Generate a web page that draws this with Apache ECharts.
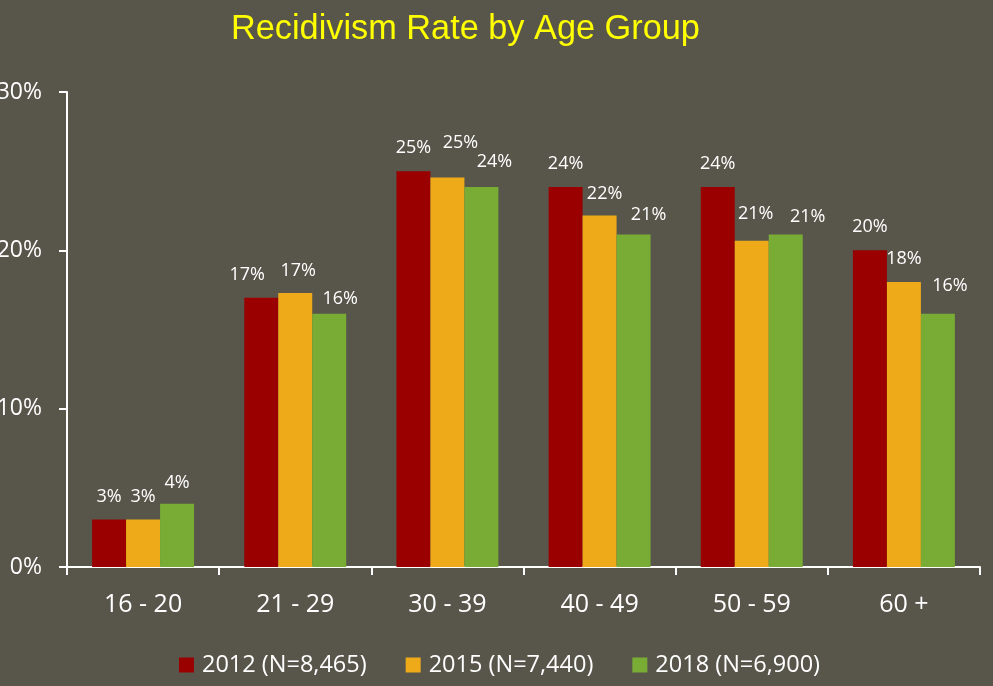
<!DOCTYPE html>
<html>
<head>
<meta charset="utf-8">
<script src="https://cdn.jsdelivr.net/npm/echarts@6/dist/echarts.min.js"></script>
<style>
html,body{margin:0;padding:0;background:#58564B;}
#c{width:993px;height:686px;}
</style>
</head>
<body>
<div id="c"></div>
<script>
var categories = ['16 - 20', '21 - 29', '30 - 39', '40 - 49', '50 - 59', '60 +'];
var seriesNames = ['2012 (N=8,465)', '2015 (N=7,440)', '2018 (N=6,900)'];
var values2012 = [3.0, 17.0, 25.0, 24.0, 24.0, 20.0];
var values2015 = [3.0, 17.3, 24.6, 22.2, 20.6, 18.0];
var values2018 = [4.0, 16.0, 24.0, 21.0, 21.0, 16.0];
var yTicks = [0, 10, 20, 30];

// manual label nudges (as in the original slide), [dx, dy] per category
var labelShift2012 = [[0,0],[-14,0],[0,0],[0,0],[0,0],[0,0]];
var labelShift2015 = [[0,0],[3,1],[13,-12],[5,1],[4,-4],[0,0]];
var labelShift2018 = [[0,2],[11,8],[13,-2],[15,3],[22,5],[12,-5]];

var colors = ['#9A0000', '#EFAA1A', '#78AC35'];
var allValues = [values2012, values2015, values2018];
var allShifts = [labelShift2012, labelShift2015, labelShift2018];

var FONT = '"Open Sans", "Noto Sans", sans-serif';

var series = allValues.map(function (vals, si) {
  return {
    name: seriesNames[si],
    type: 'bar',
    barGap: '0%',
    barCategoryGap: '33%',
    itemStyle: { color: colors[si] },
    label: {
      show: true,
      position: 'top',
      distance: 14,
      color: '#ffffff',
      fontFamily: FONT,
      fontSize: 18,
      formatter: function (p) { return Math.round(p.value) + '%'; }
    },
    data: vals.map(function (v, i) {
      return { value: v, label: { offset: allShifts[si][i] } };
    })
  };
});

var chart = echarts.init(document.getElementById('c'));
chart.setOption({
  backgroundColor: '#58564B',
  animation: false,
  title: {
    text: 'Recidivism Rate by Age Group',
    left: 226,
    top: 8,
    textStyle: { color: '#FFFF00', fontFamily: '"Liberation Sans", Arial, sans-serif', fontSize: 34.3, fontWeight: 'normal' }
  },
  legend: {
    top: 648,
    left: 174,
    itemWidth: 15,
    itemHeight: 15,
    itemGap: 39,
    icon: 'rect',
    textStyle: { color: '#ffffff', fontFamily: FONT, fontSize: 23.5, padding: [0, 0, 0, 3] },
    data: seriesNames
  },
  grid: { left: 67, right: 13, top: 92, bottom: 119, containLabel: false, outerBoundsMode: 'none' },
  xAxis: {
    type: 'category',
    data: categories,
    axisLine: { lineStyle: { color: '#ffffff', width: 2 } },
    axisTick: { show: true, length: 8, lineStyle: { color: '#ffffff', width: 2 } },
    axisLabel: { color: '#ffffff', fontFamily: FONT, fontSize: 25, margin: 25 }
  },
  yAxis: {
    type: 'value',
    min: yTicks[0],
    max: yTicks[yTicks.length - 1],
    interval: 10,
    splitLine: { show: false },
    axisLine: { show: true, lineStyle: { color: '#ffffff', width: 2 } },
    axisTick: { show: true, length: 8, lineStyle: { color: '#ffffff', width: 2 } },
    axisLabel: { color: '#ffffff', fontFamily: FONT, fontSize: 23, margin: 25, formatter: '{value}%' }
  },
  series: series
});
</script>
</body>
</html>
